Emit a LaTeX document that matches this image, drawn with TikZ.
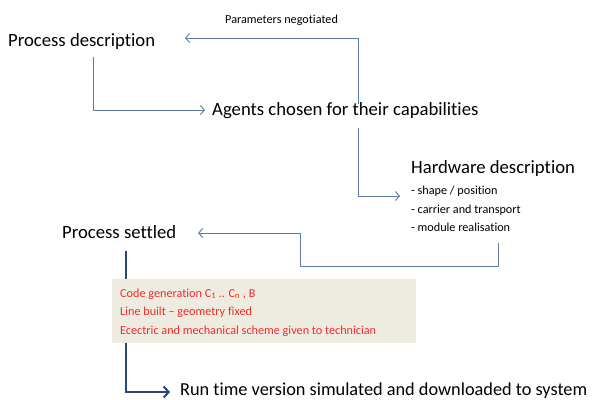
\documentclass[tikz,border=0pt]{standalone}
\usepackage{fontspec}
\setmainfont{Carlito}[Ligatures={TeX,NoCommon}]
\usetikzlibrary{arrows.meta}
\definecolor{linkblue}{HTML}{5B7CAA}
\definecolor{flowblue}{HTML}{264A7E}
\definecolor{boxtan}{HTML}{EEECE1}
\definecolor{notered}{HTML}{F22A2A}
\tikzset{
  bigtext/.style={font=\fontsize{18.7}{22}\selectfont, inner sep=0pt, anchor=base west},
  smalltext/.style={font=\fontsize{12.2}{14}\selectfont, inner sep=0pt, anchor=base west},
  redtext/.style={smalltext, text=notered},
  link/.style={draw=linkblue, line width=0.9pt, -{Straight Barb[length=4pt,width=9pt,line width=0.9pt]}},
  flow/.style={draw=flowblue, line width=2.2pt},
  flowarrow/.style={flow, -{Straight Barb[length=5pt,width=11pt,line width=2pt]}},
}
\begin{document}
\begin{tikzpicture}[x=1pt, y=-1pt]
\useasboundingbox[fill=white] (0,0) rectangle (593,399);

% stages of the flow
\node[bigtext] (process) at (8,46) {Process description};
\node[smalltext] (params) at (225,23) {Parameters negotiated};
\node[bigtext] (agents) at (212,115) {Agents chosen for their capabilities};
\node[bigtext] (hardware) at (411,173) {Hardware description};
\node[smalltext] (hw1) at (411,194) {- shape / position};
\node[smalltext] (hw2) at (411,213) {- carrier and transport};
\node[smalltext] (hw3) at (411,231) {- module realisation};
\node[bigtext] (settled) at (62,238) {Process settled};

% settled outputs
\node[fill=boxtan, minimum width=304pt, minimum height=64pt, inner sep=0pt, anchor=north west] (outputs) at (112,279) {};
\node[redtext] (out1) at (120,297) {Code generation C\textsubscript{1} .. C\textsubscript{n} , B};
\node[redtext] (out2) at (120,315.5) {Line built -- geometry fixed};
\node[redtext] (out3) at (120,334) {Ecectric and mechanical scheme given to technician};

\node[bigtext, font=\fontsize{18.3}{22}\selectfont] (runtime) at (180,395) {Run time version simulated and downloaded to system};

% connector end points
\coordinate (agentsTop) at (358,104);
\coordinate (processIn) at (185,38);
\coordinate (processOut) at (93,57);
\coordinate (agentsIn) at (205,110);
\coordinate (agentsOut) at (358,128);
\coordinate (hardwareIn) at (400,196);
\coordinate (hardwareOut) at (498,243);
\coordinate (turn) at (300,266);
\coordinate (settledIn) at (198,233);
\coordinate (settledOut) at (126,251);
\coordinate (runtimeIn) at (170,392);

% connectors
\draw[link] (agentsTop) |- (processIn);
\draw[link] (processOut) |- (agentsIn);
\draw[link] (agentsOut) |- (hardwareIn);
\draw[link] (hardwareOut) |- (turn) |- (settledIn);
\draw[flow] (settledOut) -- (settledOut |- outputs.north);
\draw[flowarrow] (settledOut |- outputs.south) |- (runtimeIn);
\end{tikzpicture}
\end{document}
